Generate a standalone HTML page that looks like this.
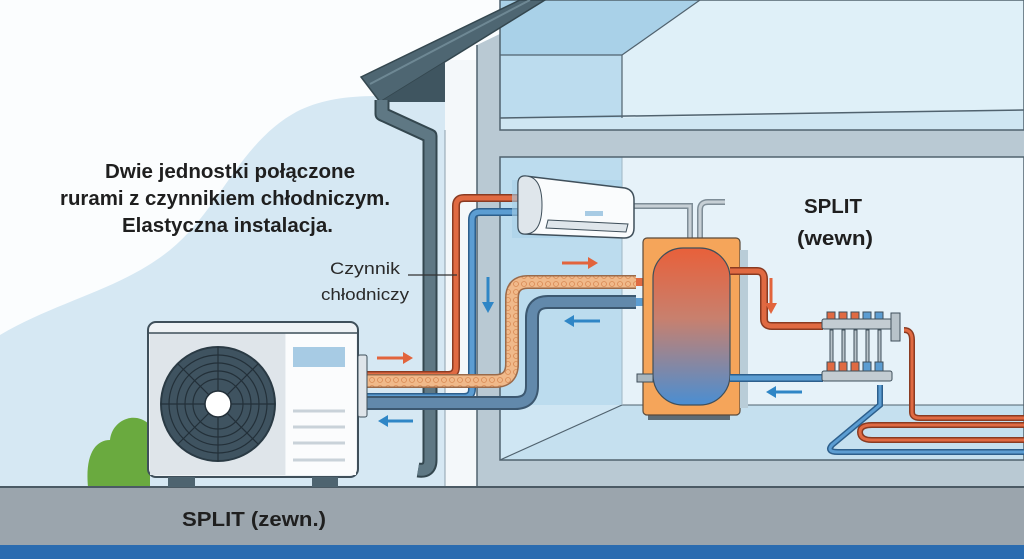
<!DOCTYPE html>
<html><head><meta charset="utf-8"><style>
html,body{margin:0;padding:0;background:#fff}
svg{display:block}
text{font-family:"Liberation Sans Narrow","Liberation Sans",sans-serif}
</style></head><body>
<svg width="1024" height="559" viewBox="0 0 1024 559" xmlns="http://www.w3.org/2000/svg">
<defs>
<linearGradient id="tk" x1="0" y1="0" x2="0" y2="1">
<stop offset="0" stop-color="#e8603a"/><stop offset="0.45" stop-color="#c8806e"/><stop offset="1" stop-color="#4a8ed2"/>
</linearGradient>
<pattern id="ins" width="8" height="8" patternUnits="userSpaceOnUse">
<rect width="8" height="8" fill="#f0b98a"/><circle cx="4" cy="4" r="2.5" fill="none" stroke="#d98a55" stroke-width="0.8"/>
</pattern>
</defs>
<rect width="1024" height="559" fill="#fbfdfe"/>
<!-- sky blob -->
<path d="M0,335 C60,300 120,290 170,250 C220,210 240,140 300,110 C340,92 380,95 445,100 L445,487 L0,487 Z" fill="#d6e8f3"/>
<!-- exterior wall -->
<rect x="445" y="60" width="32" height="427" fill="#f4f8fa"/>
<polygon points="477,45 570,0 1024,0 1024,487 477,487" fill="#b9c9d3"/>
<!-- upper room -->
<rect x="500" y="0" width="524" height="130" fill="#cfe6f3"/>
<polygon points="500,55 622,55 700,0 500,0" fill="#a9d1e8"/>
<rect x="500" y="55" width="122" height="63" fill="#bcdcee"/>
<polygon points="622,55 700,0 1024,0 1024,110 622,118" fill="#dff0f8"/>
<polygon points="500,118 622,118 1024,110 1024,130 500,130" fill="#cfe6f2"/>
<line x1="500" y1="118" x2="1024" y2="110" stroke="#50626e" stroke-width="1.5"/>
<line x1="622" y1="55" x2="622" y2="118" stroke="#50626e" stroke-width="1.2"/>
<line x1="500" y1="55" x2="622" y2="55" stroke="#50626e" stroke-width="1.2"/>
<line x1="622" y1="55" x2="700" y2="0" stroke="#50626e" stroke-width="1.2"/>
<rect x="500" y="0" width="524" height="130" fill="none" stroke="#50626e" stroke-width="1.5"/>
<!-- lower room -->
<rect x="500" y="157" width="524" height="303" fill="#cfe6f3"/>
<rect x="500" y="157" width="122" height="248" fill="#bcdcee"/>
<rect x="622" y="157" width="402" height="248" fill="#e6f2f9"/>
<polygon points="500,460 622,405 1024,405 1024,460" fill="#c5e0ef"/>
<line x1="500" y1="460" x2="622" y2="405" stroke="#50626e" stroke-width="1.2"/>
<line x1="622" y1="405" x2="1024" y2="405" stroke="#50626e" stroke-width="1"/>
<line x1="622" y1="157" x2="622" y2="405" stroke="#9fb6c4" stroke-width="1"/>
<rect x="500" y="157" width="524" height="303" fill="none" stroke="#50626e" stroke-width="1.5"/>
<line x1="477" y1="45" x2="477" y2="487" stroke="#50626e" stroke-width="1.5"/>
<line x1="445" y1="130" x2="445" y2="487" stroke="#8da0ac" stroke-width="1"/>
<!-- roof -->
<polygon points="361,77 520,0 545,0 380,102" fill="#4e6672" stroke="#34474f" stroke-width="1.5"/>
<line x1="370" y1="84" x2="530" y2="0" stroke="#6e8894" stroke-width="2"/>
<polygon points="380,102 445,62 445,102" fill="#3f5560"/>
<!-- downpipe -->
<path d="M382,100 L382,114 L430,136 L430,460 Q430,472 418,470" fill="none" stroke="#34474f" stroke-width="15" stroke-linejoin="round"/>
<path d="M382,100 L382,114 L430,136 L430,460 Q430,472 418,470" fill="none" stroke="#5f7884" stroke-width="11" stroke-linejoin="round"/>
<!-- bush -->
<path d="M88,487 C85,455 95,440 110,440 C112,420 135,410 150,425 L150,487 Z" fill="#6aaa3f"/>
<!-- ground -->
<rect x="0" y="487" width="1024" height="58" fill="#9ba5ad"/>
<line x1="0" y1="487" x2="1024" y2="487" stroke="#4b5a64" stroke-width="2"/>
<rect x="0" y="545" width="1024" height="14" fill="#2b6cb0"/>
<!-- pipes outdoor to AC -->
<path d="M367,375 L448,375 Q456,375 456,367 L456,206 Q456,198 464,198 L522,198" fill="none" stroke="#8a3b22" stroke-width="8"/>
<path d="M367,375 L448,375 Q456,375 456,367 L456,206 Q456,198 464,198 L522,198" fill="none" stroke="#e06a42" stroke-width="5"/>
<path d="M367,397 L464,397 Q472,397 472,389 L472,220 Q472,212 480,212 L522,212" fill="none" stroke="#2d5f8c" stroke-width="8"/>
<path d="M367,397 L464,397 Q472,397 472,389 L472,220 Q472,212 480,212 L522,212" fill="none" stroke="#5c9dd2" stroke-width="5"/>
<!-- insulated pipe -->
<path d="M367,381 L495,381 Q512,381 512,364 L512,298 Q512,282 528,282 L636,282" fill="none" stroke="#9a6a4a" stroke-width="14"/>
<path d="M367,381 L495,381 Q512,381 512,364 L512,298 Q512,282 528,282 L636,282" fill="none" stroke="url(#ins)" stroke-width="11"/>
<path d="M367,403 L515,403 Q532,403 532,386 L532,318 Q532,302 548,302 L636,302" fill="none" stroke="#3c5870" stroke-width="14"/>
<path d="M367,403 L515,403 Q532,403 532,386 L532,318 Q532,302 548,302 L636,302" fill="none" stroke="#6289ab" stroke-width="10"/>
<rect x="636" y="278" width="20" height="8" fill="#e06a42"/>
<rect x="636" y="298" width="20" height="8" fill="#5c9dd2"/>
<!-- outdoor unit -->
<rect x="148" y="322" width="210" height="155" rx="8" fill="#eef2f5" stroke="#3f4f5a" stroke-width="2"/>
<rect x="150" y="333" width="135" height="142" fill="#dfe5ea"/>
<line x1="149" y1="333" x2="357" y2="333" stroke="#3f4f5a" stroke-width="1.5"/>
<rect x="286" y="334" width="70" height="141" fill="#fbfcfd"/>
<circle cx="218" cy="404" r="57" fill="#3f5360" stroke="#2a3a44" stroke-width="2"/>
<g fill="none" stroke="#233039" stroke-width="1.2">
<circle cx="218" cy="404" r="49"/><circle cx="218" cy="404" r="41"/><circle cx="218" cy="404" r="33"/><circle cx="218" cy="404" r="25"/>
<line x1="161" y1="404" x2="275" y2="404"/><line x1="218" y1="347" x2="218" y2="461"/>
<line x1="178" y1="364" x2="258" y2="444"/><line x1="258" y1="364" x2="178" y2="444"/>
</g>
<circle cx="218" cy="404" r="13" fill="#fff" stroke="#233039" stroke-width="1.5"/>
<rect x="293" y="347" width="52" height="20" fill="#a7cbe4"/>
<g stroke="#c9d2d9" stroke-width="3"><line x1="293" y1="411" x2="345" y2="411"/><line x1="293" y1="427" x2="345" y2="427"/><line x1="293" y1="443" x2="345" y2="443"/><line x1="293" y1="460" x2="345" y2="460"/></g>
<rect x="358" y="355" width="9" height="62" rx="2" fill="#dfe5ea" stroke="#3f4f5a" stroke-width="1"/>
<rect x="168" y="477" width="27" height="10" fill="#4e6470"/>
<rect x="312" y="477" width="26" height="10" fill="#4e6470"/>
<!-- AC unit -->
<path d="M633,206 L690,206 L690,242" fill="none" stroke="#7e8d97" stroke-width="6"/>
<path d="M633,206 L690,206 L690,242" fill="none" stroke="#c7d0d6" stroke-width="3"/>
<path d="M700,242 L700,210 Q700,202 708,202 L725,202" fill="none" stroke="#7e8d97" stroke-width="6"/>
<path d="M700,242 L700,210 Q700,202 708,202 L725,202" fill="none" stroke="#c7d0d6" stroke-width="3"/>
<rect x="512" y="180" width="110" height="58" fill="#a9d0e8" opacity="0.6"/>
<path d="M525,176 L625,188 Q634,190 634,200 L634,228 Q634,238 624,238 L525,234 Q518,234 518,226 L518,184 Q518,176 525,176Z" fill="#fafcfd" stroke="#3f4f5a" stroke-width="1.5"/>
<path d="M525,176 Q542,176 542,205 Q542,234 525,234 Q518,234 518,226 L518,184 Q518,176 525,176Z" fill="#dfe6eb" stroke="#3f4f5a" stroke-width="1"/>
<rect x="585" y="211" width="18" height="5" fill="#a7cbe4"/>
<path d="M548,220 L628,224 L626,232 L546,228Z" fill="#dfe6eb" stroke="#3f4f5a" stroke-width="1"/>
<!-- tank -->
<rect x="648" y="400" width="82" height="20" fill="#5e6c75"/>
<rect x="643" y="238" width="97" height="177" rx="4" fill="#f5a55a" stroke="#5a4a3a" stroke-width="1.2"/>
<rect x="740" y="250" width="8" height="158" fill="#b9cdd8"/>
<rect x="653" y="248" width="77" height="157" rx="30" fill="url(#tk)" stroke="#3f4f5a" stroke-width="1.2"/>
<rect x="637" y="374" width="16" height="8" fill="#a9b6be" stroke="#3f4f5a" stroke-width="1"/>
<!-- red to manifold -->
<path d="M730,271 L757,271 Q764,271 764,279 L764,319 Q764,326 772,326 L823,326" fill="none" stroke="#8a3b22" stroke-width="8"/>
<path d="M730,271 L757,271 Q764,271 764,279 L764,319 Q764,326 772,326 L823,326" fill="none" stroke="#e06a42" stroke-width="5"/>
<path d="M730,378 L823,378" stroke="#2d5f8c" stroke-width="8"/>
<path d="M730,378 L823,378" stroke="#5c9dd2" stroke-width="5"/>
<!-- floor heating -->
<g fill="none" stroke-width="6">
<path d="M904,330 Q912,330 912,340 L912,412 Q912,418 920,418 L1024,418" stroke="#8a3b22"/>
<path d="M1024,425 L872,425 Q860,425 860,432 Q860,440 872,440 L1024,440" stroke="#8a3b22"/>
<path d="M880,385 L880,405 L832,445 Q826,452 838,452 L1024,452" stroke="#2d5f8c"/>
</g>
<g fill="none" stroke-width="3">
<path d="M904,330 Q912,330 912,340 L912,412 Q912,418 920,418 L1024,418" stroke="#e06a42"/>
<path d="M1024,425 L872,425 Q860,425 860,432 Q860,440 872,440 L1024,440" stroke="#e06a42"/>
<path d="M880,385 L880,405 L832,445 Q826,452 838,452 L1024,452" stroke="#5c9dd2"/>
</g>
<!-- manifold -->
<g stroke="#3f4f5a" stroke-width="1">
<rect x="830" y="330" width="3" height="42" fill="#b8c3ca"/><rect x="842" y="330" width="3" height="42" fill="#b8c3ca"/><rect x="854" y="330" width="3" height="42" fill="#b8c3ca"/><rect x="866" y="330" width="3" height="42" fill="#b8c3ca"/><rect x="878" y="330" width="3" height="42" fill="#b8c3ca"/>
<rect x="827" y="312" width="8" height="7" fill="#e06a42"/><rect x="839" y="312" width="8" height="7" fill="#e06a42"/><rect x="851" y="312" width="8" height="7" fill="#e06a42"/><rect x="863" y="312" width="8" height="7" fill="#5c9dd2"/><rect x="875" y="312" width="8" height="7" fill="#5c9dd2"/>
<rect x="827" y="362" width="8" height="9" fill="#e06a42"/><rect x="839" y="362" width="8" height="9" fill="#e06a42"/><rect x="851" y="362" width="8" height="9" fill="#e06a42"/><rect x="863" y="362" width="8" height="9" fill="#5c9dd2"/><rect x="875" y="362" width="8" height="9" fill="#5c9dd2"/>
<rect x="822" y="319" width="70" height="10" rx="2" fill="#c3ccd2"/>
<rect x="822" y="371" width="70" height="10" rx="2" fill="#c3ccd2"/>
<rect x="891" y="313" width="9" height="28" fill="#b8c3ca"/>
</g>
<!-- arrows -->
<g stroke-width="3" fill="none">
<line x1="377" y1="358" x2="405" y2="358" stroke="#e2643c"/><line x1="562" y1="263" x2="590" y2="263" stroke="#e2643c"/>
<line x1="413" y1="421" x2="386" y2="421" stroke="#2f86c6"/><line x1="600" y1="321" x2="572" y2="321" stroke="#2f86c6"/><line x1="802" y1="392" x2="774" y2="392" stroke="#2f86c6"/>
<line x1="488" y1="277" x2="488" y2="303" stroke="#2f86c6"/><line x1="771" y1="278" x2="771" y2="304" stroke="#e2643c"/>
</g>
<g>
<polygon points="413,358 403,352 403,364" fill="#e2643c"/><polygon points="598,263 588,257 588,269" fill="#e2643c"/>
<polygon points="378,421 388,415 388,427" fill="#2f86c6"/><polygon points="564,321 574,315 574,327" fill="#2f86c6"/><polygon points="766,392 776,386 776,398" fill="#2f86c6"/>
<polygon points="488,313 482,302 494,302" fill="#2f86c6"/><polygon points="771,314 765,303 777,303" fill="#e2643c"/>
</g>
<!-- labels -->
<line x1="408" y1="275" x2="457" y2="275" stroke="#333" stroke-width="1.2"/>
<g fill="#1f1f1f" font-weight="bold" font-size="20">
<text x="105" y="178" textLength="250" lengthAdjust="spacingAndGlyphs">Dwie jednostki połączone</text>
<text x="60" y="205" textLength="330" lengthAdjust="spacingAndGlyphs">rurami z czynnikiem chłodniczym.</text>
<text x="122" y="232" textLength="211" lengthAdjust="spacingAndGlyphs">Elastyczna instalacja.</text>
<text x="804" y="213" textLength="58" lengthAdjust="spacingAndGlyphs">SPLIT</text>
<text x="797" y="245" textLength="76" lengthAdjust="spacingAndGlyphs">(wewn)</text>
<text x="182" y="526" textLength="144" lengthAdjust="spacingAndGlyphs">SPLIT (zewn.)</text>
</g>
<g fill="#2a2a2a" font-size="17">
<text x="330" y="274" textLength="70" lengthAdjust="spacingAndGlyphs">Czynnik</text>
<text x="321" y="300" textLength="88" lengthAdjust="spacingAndGlyphs">chłodniczy</text>
</g>
</svg>
</body></html>
